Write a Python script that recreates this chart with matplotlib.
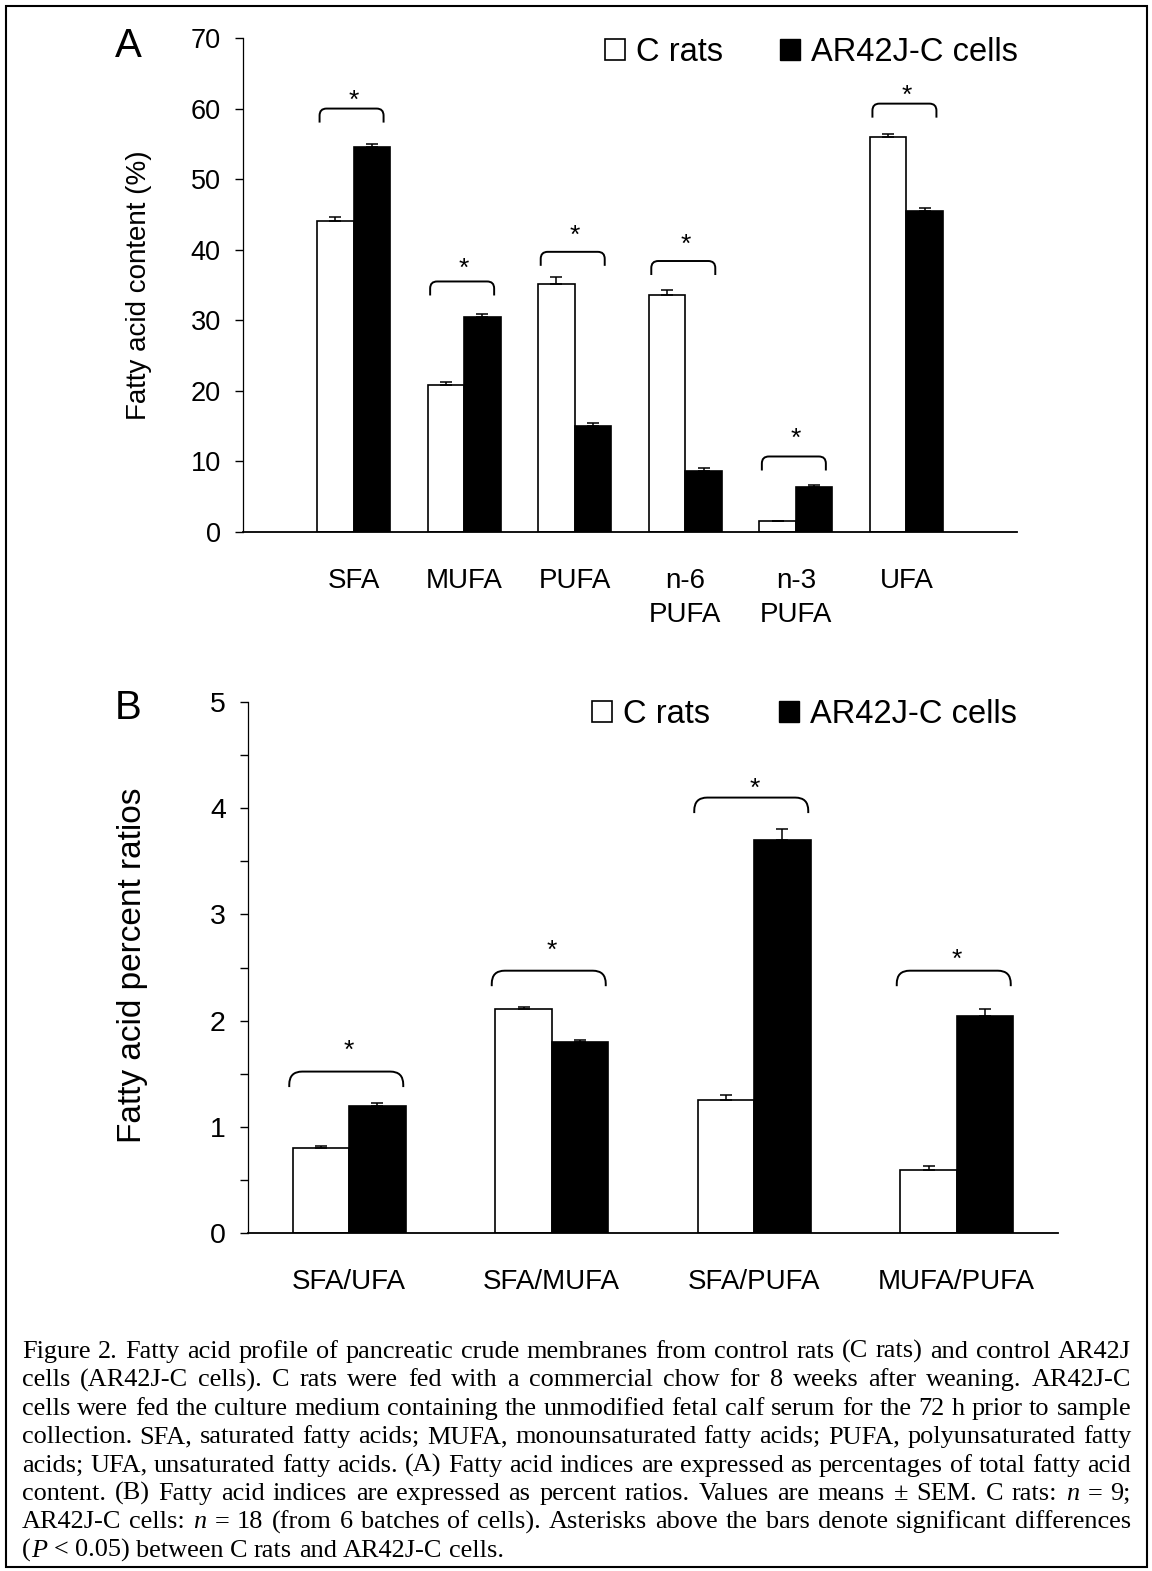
import numpy as np
import matplotlib.pyplot as plt
from matplotlib.patches import Patch, PathPatch, Rectangle
from matplotlib.path import Path

# ---- data, panel A (percent of total fatty acids) ----
cats_a = ["SFA", "MUFA", "PUFA", "n-6\nPUFA", "n-3\nPUFA", "UFA"]
crats_a = [44.0, 20.9, 35.1, 33.6, 1.5, 56.0]
crats_a_err = [0.6, 0.3, 1.0, 0.7, 0.1, 0.4]
ar42j_a = [54.6, 30.5, 15.0, 8.6, 6.4, 45.5]
ar42j_a_err = [0.4, 0.4, 0.5, 0.5, 0.3, 0.4]
bracket_a = [60.0, 35.5, 39.7, 38.4, 10.7, 60.7]   # top of significance bracket
star_a = [62.2, 38.5, 43.1, 41.8, 14.4, 63.0]      # centre of asterisk

# ---- data, panel B (percent ratios) ----
cats_b = ["SFA/UFA", "SFA/MUFA", "SFA/PUFA", "MUFA/PUFA"]
crats_b = [0.80, 2.11, 1.25, 0.59]
crats_b_err = [0.02, 0.02, 0.05, 0.04]
ar42j_b = [1.20, 1.80, 3.70, 2.04]
ar42j_b_err = [0.02, 0.02, 0.10, 0.07]
bracket_b = [1.52, 2.47, 4.10, 2.47]
star_b = [1.79, 2.73, 4.26, 2.65]

legend_labels = ["C rats", "AR42J-C cells"]

caption = [
    "Figure 2. Fatty acid profile of pancreatic crude membranes from control rats (C rats) and control AR42J",
    "cells (AR42J-C cells). C rats were fed with a commercial chow for 8 weeks after weaning. AR42J-C",
    "cells were fed the culture medium containing the unmodified fetal calf serum for the 72 h prior to sample",
    "collection. SFA, saturated fatty acids; MUFA, monounsaturated fatty acids; PUFA, polyunsaturated fatty",
    "acids; UFA, unsaturated fatty acids. (A) Fatty acid indices are expressed as percentages of total fatty acid",
    "content. (B) Fatty acid indices are expressed as percent ratios. Values are means \u00b1 SEM. C rats: _n_ = 9;",
    "AR42J-C cells: _n_ = 18 (from 6 batches of cells). Asterisks above the bars denote significant differences",
    "(_P_ < 0.05) between C rats and AR42J-C cells.",
]

W, H = 1152, 1571
plt.rcParams['font.family'] = ['Liberation Sans', 'DejaVu Sans']
fig = plt.figure(figsize=(W / 100, H / 100), dpi=100)


def px_axes(l, r, t, b):
    return fig.add_axes([l / W, 1 - b / H, (r - l) / W, (b - t) / H])


def bracket(ax, xc, ytop, half_px, leg_px, r_px, off_px):
    # rounded bracket above a pair of bars, sizes given in pixels
    pos = ax.get_position()
    x0l, x1l = ax.get_xlim()
    y0l, y1l = ax.get_ylim()
    sx = (x1l - x0l) / (pos.width * W)
    sy = (y1l - y0l) / (pos.height * H)
    xc = xc + off_px * sx
    x0, x1 = xc - half_px * sx, xc + half_px * sx
    rx, ry, leg = r_px * sx, r_px * sy, leg_px * sy
    verts = [(x0, ytop - leg), (x0, ytop - ry), (x0, ytop), (x0 + rx, ytop),
             (x1 - rx, ytop), (x1, ytop), (x1, ytop - ry), (x1, ytop - leg)]
    codes = [Path.MOVETO, Path.LINETO, Path.CURVE3, Path.CURVE3,
             Path.LINETO, Path.CURVE3, Path.CURVE3, Path.LINETO]
    ax.add_patch(PathPatch(Path(verts, codes), fill=False, lw=1.4,
                           ec='black', clip_on=False))


def panel(ax, cats, c_vals, c_err, a_vals, a_err, br, st, width, margin,
          ymax, ystep, lab_fs, ylabel, ylab_xy, ylab_fs, letter, letter_xy,
          leg_xy, colsp, br_half, br_leg, br_r, br_off):
    x = np.arange(1, len(cats) + 1)
    ax.bar(x - width / 2, c_vals, width, color='white', edgecolor='black', lw=1.2)
    ax.bar(x + width / 2, a_vals, width, color='black', edgecolor='black', lw=1.2)
    ax.errorbar(x - width / 2, c_vals, yerr=[np.zeros(len(x)), c_err], fmt='none',
                ecolor='black', elinewidth=1.1, capsize=4.5, capthick=1.1)
    ax.errorbar(x + width / 2, a_vals, yerr=[np.zeros(len(x)), a_err], fmt='none',
                ecolor='black', elinewidth=1.1, capsize=4.5, capthick=1.1)
    ax.set_xlim(x[0] - margin, x[-1] + margin)
    ax.set_ylim(0, ymax)
    ax.set_yticks(np.arange(0, ymax + 0.01, ystep))
    ax.set_xticks(x)
    ax.set_xticklabels(cats, linespacing=1.4)
    for s in ['top', 'right']:
        ax.spines[s].set_visible(False)
    ax.spines['left'].set_linewidth(0.9)
    ax.spines['bottom'].set_linewidth(1.3)
    ax.tick_params(axis='y', direction='out', length=6, width=1, pad=10, labelsize=lab_fs)
    ax.tick_params(axis='x', length=0, pad=26, labelsize=20)
    for xi, yt, ys in zip(x, br, st):
        bracket(ax, xi, yt, br_half, br_leg, br_r, br_off)
        ax.annotate('*', (xi, ys), xytext=(0, -11), textcoords='offset points',
                    ha='center', va='baseline', fontsize=19)
    fig.text(ylab_xy[0] / W, 1 - ylab_xy[1] / H, ylabel, rotation=90,
             ha='center', va='center', fontsize=ylab_fs)
    fig.text(letter_xy[0] / W, 1 - letter_xy[1] / H, letter, ha='center',
             va='center', fontsize=29)
    handles = [Patch(fc='white', ec='black', lw=1.2), Patch(fc='black', ec='black')]
    ax.legend(handles, legend_labels, ncol=2, loc='upper left',
              bbox_to_anchor=(leg_xy[0] / W, 1 - leg_xy[1] / H),
              bbox_transform=fig.transFigure, frameon=False, fontsize=23.5,
              handlelength=0.62, handleheight=0.62, handletextpad=0.33,
              columnspacing=colsp, borderpad=0, borderaxespad=0)


ax_a = px_axes(243, 1017, 38, 532)
panel(ax_a, cats_a, crats_a, crats_a_err, ar42j_a, ar42j_a_err, bracket_a, star_a,
      0.33, 1.0, 70, 10, 19.5, "Fatty acid content (%)", (139, 285), 20, "A", (128, 46),
      (605, 37), 1.75, 32, 14, 7, -2)

ax_b = px_axes(248, 1058, 702, 1233)
panel(ax_b, cats_b, crats_b, crats_b_err, ar42j_b, ar42j_b_err, bracket_b, star_b,
      0.279, 0.5, 5, 1, 20.5, "Fatty acid percent ratios", (133, 965), 24, "B", (128, 708),
      (592, 699), 2.1, 57, 15.5, 13, -3)
ax_b.set_yticks(np.arange(0, 5.01, 0.5), minor=True)
ax_b.tick_params(axis='y', which='minor', length=5.5, width=1)

# ---- caption, justified between two margins ----
renderer = fig.canvas.get_renderer()
left_px, right_px = 22, 1131

# pick the font size so that the fullest line just fits with plain spaces
probe = [fig.text(0, 0, ln.replace('_', ''), fontsize=10, family='Liberation Serif')
         for ln in caption[:-1]]
widest = max(t.get_window_extent(renderer).width for t in probe)
for t in probe:
    t.remove()
cap_fs = 10 * (right_px - left_px) / widest * 0.995

for i, line in enumerate(caption):
    yb = 1 - (1358 + i * 28.4) / H
    words = []
    for w in line.split(' '):
        parts = []
        for k, seg in enumerate(w.split('_')):
            if seg == '':
                continue
            t = fig.text(0, yb, seg, fontsize=cap_fs, family='Liberation Serif',
                         style='italic' if k % 2 else 'normal', va='baseline', ha='left')
            parts.append((t, t.get_window_extent(renderer).width))
        words.append(parts)
    widths = [sum(p[1] for p in parts) for parts in words]
    if i < len(caption) - 1:
        gap = (right_px - left_px - sum(widths)) / (len(words) - 1)
    else:
        gap = 0.25 * cap_fs * 100 / 72
    xpos = left_px
    for parts, wd in zip(words, widths):
        xx = xpos
        for t, pw in parts:
            t.set_x(xx / W)
            xx += pw
        xpos += wd + gap

fig.add_artist(Rectangle((6 / W, 1 - 1567 / H), (1147 - 6) / W, (1567 - 6) / H,
                         transform=fig.transFigure, fill=False, lw=1.5, ec='black'))

fig.savefig("out.png", dpi=100)
